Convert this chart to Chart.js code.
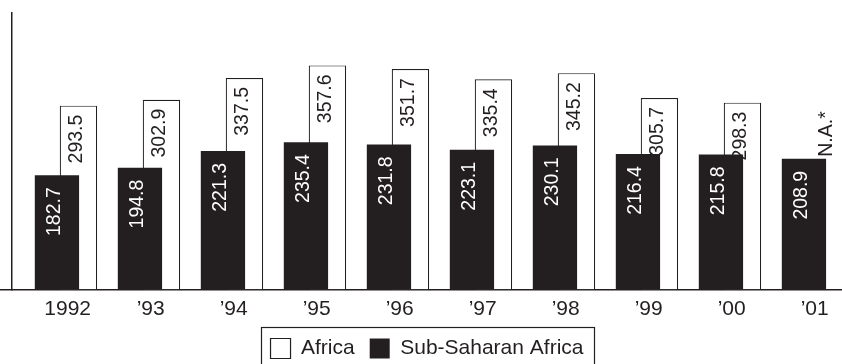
<!DOCTYPE html>
<html><head><meta charset="utf-8">
<script src="https://cdn.jsdelivr.net/npm/chart.js@4/dist/chart.umd.min.js"></script>
<style>html,body{margin:0;padding:0;background:#fff;}#wrap{width:842px;height:364px;position:relative;}</style>
</head><body><div id="wrap"><canvas id="c" width="842" height="364"></canvas></div>
<script>
const categories = ["1992", "\u201993", "\u201994", "\u201995", "\u201996", "\u201997", "\u201998", "\u201999", "\u201900", "\u201901"];
const africa = [293.5, 302.9, 337.5, 357.6, 351.7, 335.4, 345.2, 305.7, 298.3, null];
const subSaharan = [182.7, 194.8, 221.3, 235.4, 231.8, 223.1, 230.1, 216.4, 215.8, 208.9];
const seriesNames = ["Africa", "Sub-Saharan Africa"];
const missingLabel = "N.A.*";

const INK = '#231f20';
const FONT = "'Liberation Sans', Arial, Helvetica, sans-serif";
const toPoints = arr => arr.map((v, i) => ({ x: i, y: v }));

const barLabels = {
  id: 'barLabels',
  afterDatasetsDraw(chart) {
    const ctx = chart.ctx;
    ctx.save();
    ctx.font = '19.5px ' + FONT;
    ctx.textBaseline = 'middle';
    const sources = [subSaharan, africa];
    sources.forEach((vals, di) => {
      const meta = chart.getDatasetMeta(di);
      meta.data.forEach((el, i) => {
        const v = vals[i];
        ctx.save();
        if (v == null) {
          const blackTop = chart.getDatasetMeta(0).data[i].y;
          ctx.fillStyle = INK;
          ctx.translate(el.x + 1, blackTop - 2);
          ctx.rotate(-Math.PI / 2);
          ctx.textAlign = 'left';
          ctx.fillText(missingLabel, 0, 0);
        } else {
          const black = di === 0;
          ctx.fillStyle = black ? '#ffffff' : INK;
          ctx.translate(el.x - 2, el.y + (black ? 12 : 9));
          ctx.rotate(-Math.PI / 2);
          ctx.textAlign = 'right';
          ctx.fillText(v.toFixed(1), 0, 0);
        }
        ctx.restore();
      });
    });
    ctx.restore();
  }
};

const legendFrame = {
  id: 'legendFrame',
  afterLayout(chart) {
    const lg = chart.legend;
    if (lg) { lg.top += 5; lg.bottom += 5; }
  },
  afterDraw(chart) {
    const hb = chart.legend && chart.legend.legendHitBoxes;
    if (!hb || !hb.length) return;
    const ctx = chart.ctx;
    const l = Math.min(...hb.map(b => b.left)) - 10;
    const r = Math.max(...hb.map(b => b.left + b.width)) + 10;
    const t = Math.min(...hb.map(b => b.top)) - 11;
    ctx.save();
    ctx.strokeStyle = INK;
    ctx.lineWidth = 1.2;
    ctx.strokeRect(Math.round(l) + 0.5, Math.round(t) + 0.5, Math.round(r - l), chart.height);
    ctx.restore();
  }
};

new Chart(document.getElementById('c'), {
  type: 'bar',
  data: {
    datasets: [
      {
        label: seriesNames[1],
        data: toPoints(subSaharan),
        backgroundColor: INK,
        borderWidth: 0,
        categoryPercentage: 0.518,
        barPercentage: 2.06
      },
      {
        label: seriesNames[0],
        data: toPoints(africa),
        backgroundColor: '#ffffff',
        borderColor: INK,
        borderWidth: 1.2,
        categoryPercentage: 0.518,
        barPercentage: 1.74
      }
    ]
  },
  options: {
    responsive: false,
    animation: false,
    devicePixelRatio: 1,
    layout: { padding: { top: 13, left: 0, right: 0, bottom: 0 } },
    plugins: {
      tooltip: { enabled: false },
      legend: {
        position: 'bottom',
        reverse: true,
        fullSize: false,
        labels: {
          boxWidth: 20, boxHeight: 20, padding: 15, color: INK,
          font: { family: FONT, size: 21 }
        }
      }
    },
    scales: {
      x: {
        type: 'linear',
        offset: false,
        min: -0.671, max: 9.329,
        grid: { display: false, offset: false },
        border: { display: true, color: INK, width: 1.5 },
        afterBuildTicks: s => { s.ticks = categories.map((_, i) => ({ value: i })); },
        afterFit: s => { s.height = 28; },
        ticks: {
          callback: v => categories[v],
          font: { family: FONT, size: 21 }, color: INK,
          padding: -1, maxRotation: 0, autoSkip: false
        }
      },
      y: {
        min: 0, max: 441,
        afterBuildTicks: s => { s.ticks = [{ value: 0 }]; },
        grid: { display: true, drawOnChartArea: false, drawTicks: true, tickLength: 12, color: INK, lineWidth: 1.5 },
        border: { display: true, color: INK, width: 1.5 },
        ticks: { display: false }
      }
    }
  },
  plugins: [barLabels, legendFrame]
});
</script>
</body></html>
